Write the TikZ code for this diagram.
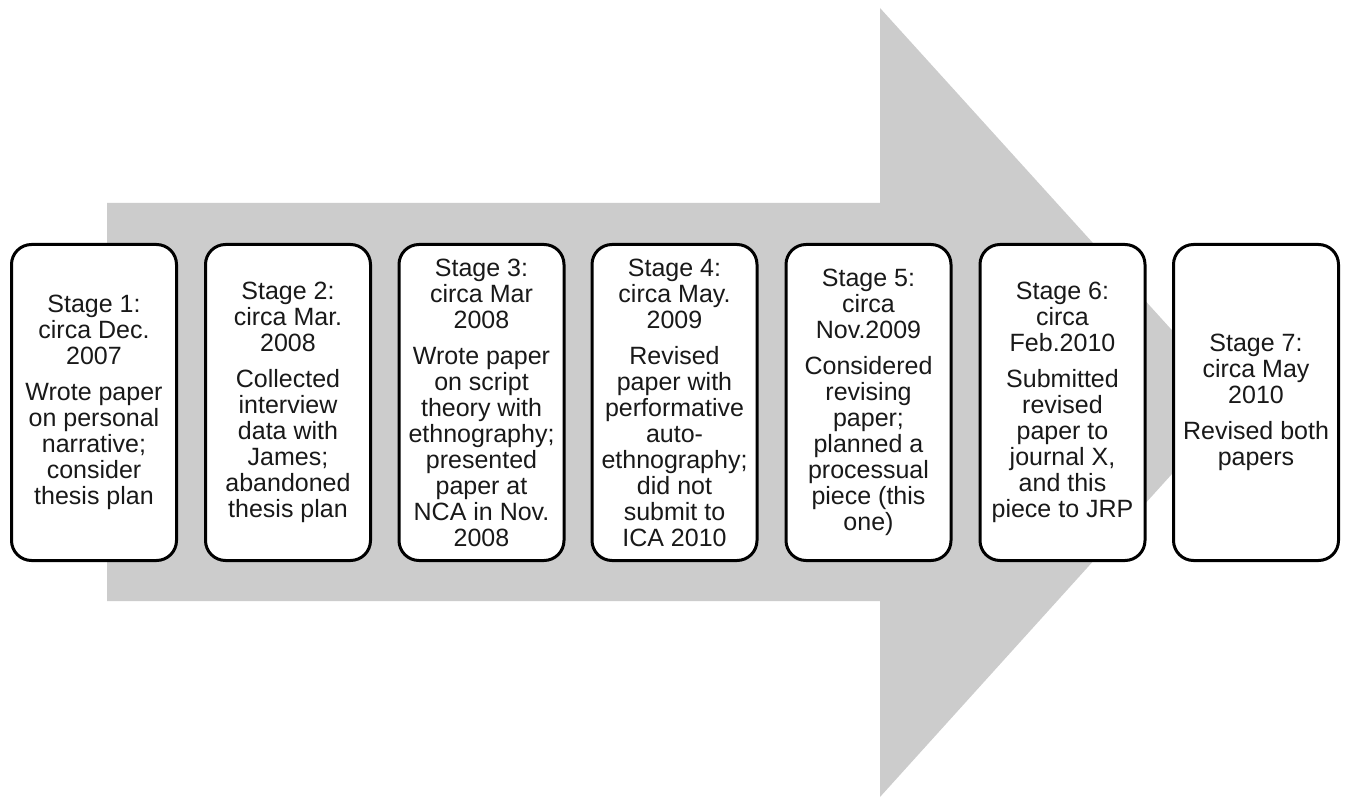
\documentclass[tikz,border=0pt]{standalone}
\usepackage{fontspec}
\setmainfont{Liberation Sans}
\definecolor{arrowgray}{RGB}{204,204,204}
\definecolor{textblack}{RGB}{25,25,25}
\begin{document}
\begin{tikzpicture}[x=1pt,y=-1pt,
  stagebox/.style={draw=black, line width=3pt, rounded corners=20pt, fill=white,
    minimum width=165pt, minimum height=316pt, inner sep=0pt,
    align=center, text=textblack, font=\fontsize{25}{26}\selectfont}]
\useasboundingbox (0,0) rectangle (1347,799);
\fill[white] (0,0) rectangle (1347,799);
% big background arrow
\fill[arrowgray] (107,203) -- (880,203) -- (880,8) -- (1237,402) -- (880,797) -- (880,601) -- (107,601) -- cycle;
% stage boxes
\node[stagebox] (s1) at (94,402.5) {Stage 1:\\circa Dec.\\2007\\[10pt]Wrote paper\\on personal\\narrative;\\consider\\thesis plan};
\node[stagebox] (s2) at (288,402.5) {Stage 2:\\circa Mar.\\2008\\[10pt]Collected\\interview\\data with\\James;\\abandoned\\thesis plan};
\node[stagebox] (s3) at (481.5,402.5) {Stage 3:\\circa Mar\\2008\\[10pt]Wrote paper\\on script\\theory with\\ethnography;\\presented\\paper at\\NCA in Nov.\\2008};
\node[stagebox] (s4) at (674.5,402.5) {Stage 4:\\circa May.\\2009\\[10pt]Revised\\paper with\\performative\\auto-\\ethnography;\\did not\\submit to\\ICA 2010};
\node[stagebox] (s5) at (868.5,402.5) {Stage 5:\\circa\\Nov.2009\\[10pt]Considered\\revising\\paper;\\planned a\\processual\\piece (this\\one)};
\node[stagebox] (s6) at (1062.5,402.5) {Stage 6:\\circa\\Feb.2010\\[10pt]Submitted\\revised\\paper to\\journal X,\\and this\\piece to JRP};
\node[stagebox] (s7) at (1256,402.5) {Stage 7:\\circa May\\2010\\[10pt]Revised both\\papers};
\end{tikzpicture}
\end{document}
